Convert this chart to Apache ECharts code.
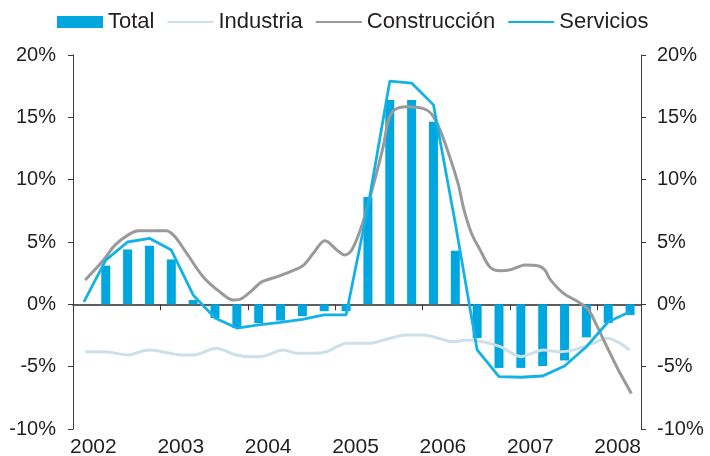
<!DOCTYPE html>
<html>
<head>
<meta charset="utf-8">
<script src="https://cdn.jsdelivr.net/npm/echarts@6/dist/echarts.min.js"></script>
<style>
html,body{margin:0;padding:0;background:#fff;}
#chart{width:710px;height:456px;}
</style>
</head>
<body>
<div id="chart"></div>
<script>
// Years shown on the x axis
const yearTicks = [2002, 2003, 2004, 2005, 2006, 2007, 2008];
// Quarterly categories (quarter midpoints, 2002 Q1 .. 2008 Q2)
const quarters = ['2002T1','2002T2','2002T3','2002T4','2003T1','2003T2','2003T3','2003T4',
  '2004T1','2004T2','2004T3','2004T4','2005T1','2005T2','2005T3','2005T4',
  '2006T1','2006T2','2006T3','2006T4','2007T1','2007T2','2007T3','2007T4','2008T1','2008T2'];
// Total (bars), % y/y
const totalValues = [null, 3.1, 4.4, 4.7, 3.6, 0.35, -1.1, -1.9,
  -1.5, -1.3, -0.95, -0.55, -0.55, 8.6, 16.4, 16.4,
  14.65, 4.3, -2.7, -5.1, -5.1, -4.95, -4.5, -2.65, -1.5, -0.85];
// Servicios (quarterly line)
const serviciosValues = [0.2, 3.55, 5.0, 5.3, 4.35, 0.75, -1.1, -1.9,
  -1.65, -1.45, -1.2, -0.85, -0.85, 7.8, 17.9, 17.75,
  16.0, 6.5, -3.65, -5.8, -5.85, -5.75, -4.95, -3.4, -1.4, -0.6];
// Construcción (finer sampling): [decimal year, value]
const construccionValues = [[2002.14,1.95],[2002.35,3.55],[2002.48,4.75],[2002.65,5.65],[2002.75,5.9],
  [2003.07,5.9],[2003.17,5.4],[2003.30,4.1],[2003.49,2.2],[2003.68,1.0],[2003.83,0.35],[2003.91,0.4],
  [2004.03,1.0],[2004.16,1.8],[2004.33,2.2],[2004.48,2.6],[2004.64,3.15],[2004.75,4.1],[2004.88,5.1],
  [2004.92,5.0],[2005.02,4.35],[2005.11,3.95],[2005.19,4.35],[2005.30,6.2],[2005.40,8.6],[2005.55,12.65],
  [2005.61,14.8],[2005.68,15.6],[2005.82,15.85],[2006.01,15.7],[2006.10,15.3],[2006.20,14.0],
  [2006.31,11.85],[2006.41,9.6],[2006.47,7.7],[2006.56,5.7],[2006.66,4.35],[2006.77,3.0],[2006.89,2.7],
  [2007.02,2.8],[2007.17,3.15],[2007.32,3.1],[2007.40,2.75],[2007.46,2.0],[2007.61,0.9],[2007.78,0.2],
  [2007.90,-0.45],[2007.99,-1.65],[2008.11,-3.4],[2008.24,-5.25],[2008.39,-7.15]];
// Industria (finer sampling): [decimal year, value]
const industriaValues = [[2002.14,-3.8],[2002.37,-3.8],[2002.63,-4.07],[2002.77,-3.8],[2002.88,-3.67],
  [2003.11,-3.93],[2003.26,-4.07],[2003.38,-4.07],[2003.64,-3.53],[2003.87,-4.07],[2004.03,-4.2],
  [2004.14,-4.2],[2004.41,-3.67],[2004.56,-3.93],[2004.75,-3.93],[2004.90,-3.8],[2005.02,-3.4],
  [2005.13,-3.13],[2005.28,-3.13],[2005.40,-3.13],[2005.55,-2.87],[2005.82,-2.46],[2006.01,-2.46],
  [2006.12,-2.6],[2006.35,-3.0],[2006.50,-2.87],[2006.69,-3.0],[2006.89,-3.4],[2007.13,-4.2],
  [2007.25,-3.93],[2007.38,-3.67],[2007.57,-3.8],[2007.72,-3.67],[2007.95,-3.13],[2008.12,-2.73],
  [2008.26,-3.13],[2008.37,-3.67]];
// Left / right axis tick range
const yMin = -10, yMax = 20, yStep = 5;

const quarterPos = quarters.map((q, i) => 2002.125 + 0.25 * i);
const FONT = "'Liberation Sans', Arial, Helvetica, sans-serif";
const textCol = '#231f20';
const axisCol = '#3a3a3a';

const chart = echarts.init(document.getElementById('chart'), null, {renderer: 'canvas'});
const yAxisBase = {
  type: 'value', min: yMin, max: yMax, interval: yStep,
  axisLine: {show: true, onZero: false, lineStyle: {color: axisCol, width: 1}},
  axisTick: {show: true, length: 5, lineStyle: {color: axisCol}},
  splitLine: {show: false},
  axisLabel: {formatter: '{value}%', fontSize: 20, fontFamily: FONT, color: textCol}
};
const hideSym = {opacity: 0};
chart.setOption({
  animation: false,
  backgroundColor: '#fff',
  textStyle: {fontFamily: FONT},
  grid: {left: 73, right: 69, top: 55, bottom: 27, containLabel: false, outerBoundsMode: 'none'},
  legend: {
    left: 57, top: 11, padding: 0,
    itemWidth: 46, itemHeight: 12, itemGap: 12,
    textStyle: {fontSize: 22, fontFamily: FONT, color: textCol},
    data: [
      {name: 'Total', icon: 'rect'},
      {name: 'Industria', itemStyle: hideSym},
      {name: 'Construcción', itemStyle: hideSym},
      {name: 'Servicios', itemStyle: hideSym}
    ]
  },
  xAxis: [{
    type: 'value', min: 2002, max: 2008.5, interval: 1, position: 'bottom',
    axisLine: {show: false, onZero: false},
    axisTick: {show: false},
    splitLine: {show: false},
    axisLabel: {
      fontSize: 21, fontFamily: FONT, color: textCol, align: 'left', margin: 8,
      padding: [0, 0, 0, -3],
      formatter: v => (yearTicks.indexOf(v) >= 0 ? String(v) : '')
    }
  }, {
    type: 'value', min: 2002, max: 2008.5, interval: 1, position: 'top',
    axisLine: {show: true, onZero: true, lineStyle: {color: '#2a2a2a', width: 1.5}},
    axisTick: {show: true, inside: true, length: 6, lineStyle: {color: axisCol}},
    axisLabel: {show: false},
    splitLine: {show: false}
  }],
  yAxis: [
    Object.assign({}, yAxisBase, {position: 'left', axisLabel: Object.assign({}, yAxisBase.axisLabel, {margin: 17})}),
    Object.assign({}, yAxisBase, {position: 'right', axisLabel: Object.assign({}, yAxisBase.axisLabel, {margin: 16})})
  ],
  series: [{
    name: 'Total', type: 'bar', xAxisIndex: 0, yAxisIndex: 0,
    barWidth: 9,
    itemStyle: {color: '#00a6de'},
    data: totalValues.map((v, i) => [quarterPos[i], v])
  }, {
    name: 'Industria', type: 'line', xAxisIndex: 0, yAxisIndex: 0,
    symbol: 'none', smooth: 0.3,
    lineStyle: {color: '#cde0e9', width: 3},
    itemStyle: {color: '#cde0e9'},
    data: industriaValues
  }, {
    name: 'Construcción', type: 'line', xAxisIndex: 0, yAxisIndex: 0,
    symbol: 'none', smooth: 0.3,
    lineStyle: {color: '#9a9a9b', width: 3},
    itemStyle: {color: '#9a9a9b'},
    data: construccionValues
  }, {
    name: 'Servicios', type: 'line', xAxisIndex: 0, yAxisIndex: 0,
    symbol: 'none',
    lineStyle: {color: '#13b2e6', width: 2.8},
    itemStyle: {color: '#13b2e6'},
    data: serviciosValues.map((v, i) => [quarterPos[i], v])
  }]
});
</script>
</body>
</html>
